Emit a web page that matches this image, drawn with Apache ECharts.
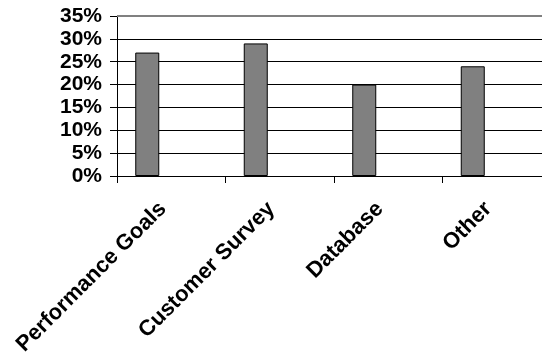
<!DOCTYPE html>
<html>
<head>
<meta charset="utf-8">
<script src="https://cdn.jsdelivr.net/npm/echarts@6/dist/echarts.min.js"></script>
<style>
  html, body { margin: 0; padding: 0; background: #fff; }
  #chart { width: 542px; height: 355px; }
</style>
</head>
<body>
<div id="chart"></div>
<script>
// Share of responses by source (percent)
const categories = ['Performance Goals', 'Customer Survey', 'Database', 'Other'];
const shares = [27, 29, 20, 24];
const yTicks = [0, 5, 10, 15, 20, 25, 30, 35];

const FONT = 'Arial, "Liberation Sans", sans-serif';
const chart = echarts.init(document.getElementById('chart'), null, { renderer: 'canvas' });

const yMax = yTicks[yTicks.length - 1];
// Gridline colours: black rules; the top rule is drawn as a grey border line below
const gridColors = yTicks.map((v, i) => (i === yTicks.length - 1 ? 'rgba(0,0,0,0)' : '#000000'));

const emptyRow = categories.map(() => null);

chart.setOption({
  animation: false,
  backgroundColor: '#ffffff',
  grid: {
    left: 117, top: 16, width: 434, height: 160,
    containLabel: false,
    outerBoundsMode: 'none'
  },
  xAxis: {
    type: 'category',
    data: categories,
    boundaryGap: true,
    axisLine: { show: true, lineStyle: { color: '#000', width: 1 } },
    axisTick: { show: true, alignWithLabel: false, length: 7, lineStyle: { color: '#000', width: 1 } },
    axisLabel: {
      interval: 0,
      rotate: 45,
      margin: 21,
      padding: [0, 12, 0, 0],
      color: '#000',
      fontFamily: FONT,
      fontWeight: 'bold',
      fontSize: 22
    },
    splitLine: { show: false }
  },
  yAxis: {
    type: 'value',
    min: yTicks[0],
    max: yMax,
    interval: 5,
    axisLine: { show: true, lineStyle: { color: '#000', width: 1 } },
    axisTick: { show: true, inside: false, length: 7, lineStyle: { color: '#000', width: 1 } },
    axisLabel: {
      margin: 15,
      color: '#000',
      fontFamily: FONT,
      fontWeight: 'bold',
      fontSize: 21,
      formatter: v => v + '%'
    },
    splitLine: { show: true, lineStyle: { color: gridColors, width: 1 } }
  },
  series: [
    {
      type: 'bar',
      data: shares,
      barWidth: 24,
      barGap: '0%',
      itemStyle: { color: '#808080', borderColor: '#000', borderWidth: 1 },
      markLine: {
        silent: true,
        symbol: 'none',
        label: { show: false },
        lineStyle: { color: '#808080', width: 2, type: 'solid' },
        data: [{ yAxis: yMax }]
      }
    },
    { type: 'bar', data: emptyRow, barWidth: 24, barGap: '0%' },
    { type: 'bar', data: emptyRow, barWidth: 24, barGap: '0%' }
  ]
});
</script>
</body>
</html>
